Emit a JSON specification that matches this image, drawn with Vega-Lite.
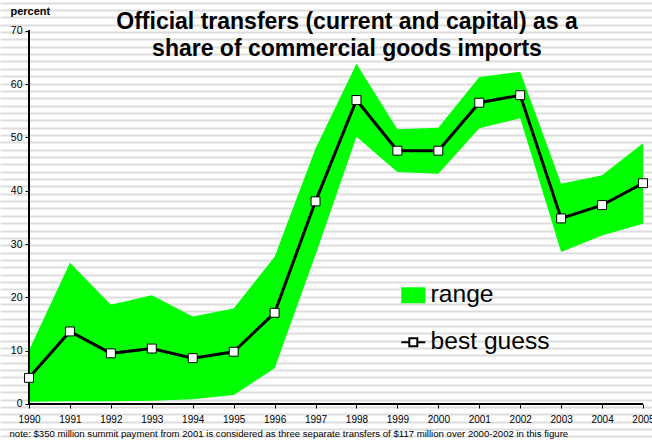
{
  "$schema": "https://vega.github.io/schema/vega-lite/v6.json",
  "width": 652,
  "height": 441,
  "autosize": "none",
  "padding": 0,
  "background": "white",
  "config": {"view": {"stroke": null}, "font": "Liberation Sans"},
  "title": {
    "text": ["Official transfers (current and capital) as a", "share of commercial goods imports"],
    "font": "Liberation Sans", "fontSize": 23, "fontWeight": "bold", "color": "black",
    "anchor": "middle", "baseline": "top", "offset": 0, "dx": 21, "dy": 61, "lineHeight": 27
  },
  "data": {"values": [
    {"year": 1990, "low": 0.4, "high": 10.1, "best": 4.9},
    {"year": 1991, "low": 0.5, "high": 26.5, "best": 13.6},
    {"year": 1992, "low": 0.5, "high": 18.6, "best": 9.5},
    {"year": 1993, "low": 0.6, "high": 20.4, "best": 10.4},
    {"year": 1994, "low": 0.9, "high": 16.4, "best": 8.6},
    {"year": 1995, "low": 1.7, "high": 17.9, "best": 9.8},
    {"year": 1996, "low": 6.7, "high": 27.6, "best": 17.1},
    {"year": 1997, "low": 28.0, "high": 47.9, "best": 38.0},
    {"year": 1998, "low": 50.1, "high": 63.8, "best": 57.0},
    {"year": 1999, "low": 43.5, "high": 51.5, "best": 47.5},
    {"year": 2000, "low": 43.2, "high": 51.8, "best": 47.5},
    {"year": 2001, "low": 51.7, "high": 61.3, "best": 56.5},
    {"year": 2002, "low": 53.6, "high": 62.3, "best": 57.9},
    {"year": 2003, "low": 28.5, "high": 41.3, "best": 34.8},
    {"year": 2004, "low": 31.6, "high": 42.9, "best": 37.3},
    {"year": 2005, "low": 33.8, "high": 48.9, "best": 41.4}
  ]},
  "resolve": {"scale": {"y": "independent"}, "axis": {"y": "independent"}},
  "layer": [
    {
      "mark": {"type": "area", "color": "#00ff00", "opacity": 1},
      "encoding": {
        "x": {"field": "year", "type": "quantitative",
          "scale": {"domain": [1989.2915, 2005.2199], "nice": false, "zero": false},
          "axis": {
            "orient": "bottom", "offset": -37,
            "values": [1990,1991,1992,1993,1994,1995,1996,1997,1998,1999,2000,2001,2002,2003,2004,2005],
            "format": "d", "domain": false, "grid": false,
            "tickSize": 4, "tickColor": "black", "tickWidth": 1,
            "labelFont": "Liberation Sans", "labelFontSize": 10, "labelColor": "black",
            "labelPadding": 6, "labelFlush": false, "labelOverlap": false,
            "title": "note: $350 million summit payment from 2001 is considered as three separate transfers of $117 million over 2000-2002 in this figure",
            "titleFont": "Liberation Sans", "titleFontSize": 9.6, "titleFontWeight": "normal", "titleColor": "black",
            "titleX": 9, "titleY": 32, "titleAlign": "left", "titleBaseline": "alphabetic", "titleAnchor": "start"
          }
        },
        "y": {"field": "low", "type": "quantitative",
          "scale": {"domain": [-6.94, 75.76], "nice": false, "zero": false},
          "axis": {
            "orient": "left",
            "values": [75.25,73.87,72.49,71.12,69.74,68.36,66.98,65.6,64.23,62.85,61.47,60.09,58.71,57.34,55.96,54.58,53.2,51.82,50.45,49.07,47.69,46.31,44.93,43.56,42.18,40.8,39.42,38.04,36.67,35.29,33.91,32.53,31.15,29.78,28.4,27.02,25.64,24.26,22.89,21.51,20.13,18.75,17.37,16.0,14.62,13.24,11.86,10.48,9.11,7.73,6.35,4.97,3.59,2.22,0.84,-0.54,-1.92,-3.3,-4.67,-6.05],
            "grid": true, "gridColor": "#dddddd", "gridWidth": 2,
            "labels": false, "ticks": false, "domain": false, "title": null
          }
        },
        "y2": {"field": "high"},
        "fill": {"datum": "range", "type": "nominal", "scale": {"range": ["#00ff00"]},
          "legend": {
            "title": null, "orient": "none", "legendX": 401, "legendY": 283, "padding": 0,
            "symbolType": "M-1.5,-1H1.5V1H-1.5Z", "symbolSize": 256, "symbolStrokeWidth": 0,
            "symbolOpacity": 1,
            "labelFont": "Liberation Sans", "labelFontSize": 24.6, "labelColor": "black", "labelOffset": 5
          }
        }
      }
    },
    {
      "mark": {"type": "rule", "color": "black", "strokeWidth": 1},
      "encoding": {
        "x": {"datum": 1990, "type": "quantitative", "scale": {"domain": [1989.2915, 2005.2199], "nice": false, "zero": false}},
        "y": {"datum": 0, "type": "quantitative", "scale": {"domain": [-6.94, 75.76], "nice": false, "zero": false}, "axis": null},
        "y2": {"datum": 70}
      }
    },
    {
      "mark": {"type": "rule", "color": "black", "strokeWidth": 1},
      "encoding": {
        "x": {"datum": 1990, "type": "quantitative", "scale": {"domain": [1989.2915, 2005.2199], "nice": false, "zero": false}},
        "x2": {"datum": 2005},
        "y": {"datum": 0, "type": "quantitative", "scale": {"domain": [-6.94, 75.76], "nice": false, "zero": false}, "axis": null}
      }
    },
    {
      "mark": {"type": "line", "color": "black", "strokeWidth": 3},
      "encoding": {
        "x": {"field": "year", "type": "quantitative", "scale": {"domain": [1989.2915, 2005.2199], "nice": false, "zero": false}},
        "y": {"field": "best", "type": "quantitative",
          "scale": {"domain": [-6.94, 75.76], "nice": false, "zero": false},
          "axis": {
            "orient": "left", "offset": -29,
            "values": [0,10,20,30,40,50,60,70],
            "domain": false, "grid": false,
            "tickSize": 4, "tickColor": "black", "tickWidth": 1,
            "labelFont": "Liberation Sans", "labelFontSize": 10.5, "labelColor": "black", "labelPadding": 3,
            "title": "percent", "titleAngle": 0, "titleFont": "Liberation Sans", "titleFontWeight": "bold",
            "titleFontSize": 11, "titleColor": "black",
            "titleX": -19, "titleY": 14, "titleAlign": "left", "titleBaseline": "alphabetic"
          }
        },
        "stroke": {"datum": "best guess", "type": "nominal", "scale": {"range": ["black"]},
          "legend": {
            "title": null, "orient": "none", "legendX": 401, "legendY": 330, "padding": 0,
            "symbolType": "M-1.5,0H-0.5M0.5,0H1.5M-0.5,-0.5H0.5V0.5H-0.5Z", "symbolSize": 256,
            "symbolStrokeWidth": 2, "symbolFillColor": "white", "symbolStrokeColor": "black",
            "labelFont": "Liberation Sans", "labelFontSize": 24.6, "labelColor": "black", "labelOffset": 5,
            "encode": {"symbols": {"update": {"fill": {"value": "white"}, "stroke": {"value": "black"}, "opacity": {"value": 1}}}}
          }
        }
      }
    },
    {
      "mark": {"type": "point", "shape": "square", "filled": true, "fill": "white", "stroke": "black", "strokeWidth": 1, "size": 80, "opacity": 1},
      "encoding": {
        "x": {"field": "year", "type": "quantitative", "scale": {"domain": [1989.2915, 2005.2199], "nice": false, "zero": false}},
        "y": {"field": "best", "type": "quantitative", "scale": {"domain": [-6.94, 75.76], "nice": false, "zero": false}, "axis": null}
      }
    }
  ]
}
